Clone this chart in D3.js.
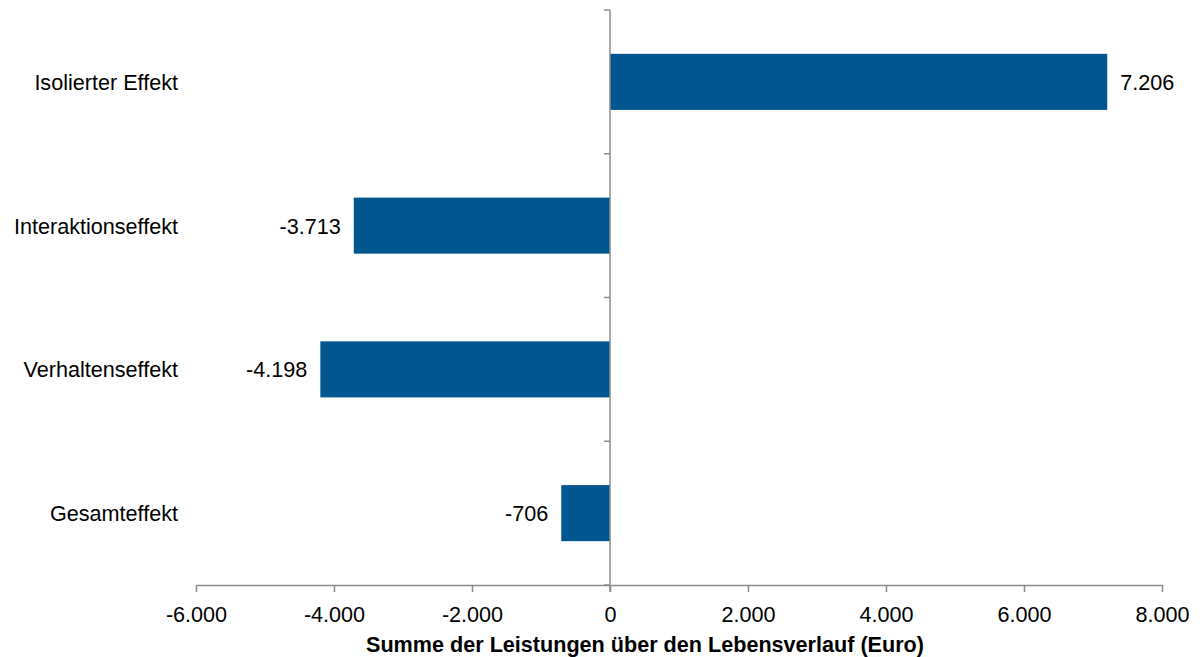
<!DOCTYPE html>
<html><head><meta charset="utf-8">
<script src="https://cdn.jsdelivr.net/npm/d3@7"></script>
<style>body{margin:0;background:#fff;} text{font-family:"Liberation Sans",Arial,sans-serif;}</style>
</head><body><svg id="c" width="1200" height="657"></svg>
<script>
const categories = ["Isolierter Effekt","Interaktionseffekt","Verhaltenseffekt","Gesamteffekt"];
const values = [7206,-3713,-4198,-706];
const xTicks = [-6000,-4000,-2000,0,2000,4000,6000,8000];
const xTitle = "Summe der Leistungen über den Lebensverlauf (Euro)";

const svg = d3.select("#c");
const pLeft=196, pRight=1162, pTop=10, pBottom=585;
const fmt = v => d3.format(",")(v).replace(/,/g,".").replace("\u2212","-");
const x = d3.scaleLinear().domain([-6000,8000]).range([pLeft,pRight]);
const y = d3.scaleBand().domain(categories).range([pTop,pBottom]).paddingInner(0.61).paddingOuter(0.305);
const axisColor="#8c8c8c";
const fs = 21.6;

// bars
svg.selectAll("rect.bar").data(values).enter().append("rect")
  .attr("x",d=>x(Math.min(0,d))).attr("width",d=>Math.abs(x(d)-x(0)))
  .attr("y",(d,i)=>y(categories[i])).attr("height",y.bandwidth())
  .attr("fill","#02568F");

// x axis
const xa = svg.append("g").attr("transform",`translate(0,${pBottom})`)
  .call(d3.axisBottom(x).tickValues(xTicks).tickSize(7).tickSizeOuter(0).tickFormat(fmt));
xa.select(".domain").attr("stroke",axisColor).attr("stroke-width",1.5);
xa.selectAll(".tick line").attr("stroke",axisColor).attr("stroke-width",1.5);
xa.selectAll(".tick text").attr("font-size",fs).attr("fill","#000").attr("y",37).attr("dy",0)
  .attr("font-family","Liberation Sans, Arial, sans-serif");

// y axis at zero
const bandStep = y.step();
const yTickPos = d3.range(categories.length+1).map(i=>pTop + i*bandStep);
svg.append("line").attr("x1",x(0)).attr("x2",x(0)).attr("y1",pTop).attr("y2",pBottom+7)
  .attr("stroke",axisColor).attr("stroke-width",1.5);
svg.selectAll("line.yt").data(yTickPos).enter().append("line")
  .attr("x1",x(0)-6).attr("x2",x(0)).attr("y1",d=>d).attr("y2",d=>d)
  .attr("stroke",axisColor).attr("stroke-width",1.5);

// category labels
svg.selectAll("text.cat").data(categories).enter().append("text")
  .attr("x",178).attr("y",d=>y(d)+y.bandwidth()/2 + 8)
  .attr("text-anchor","end").attr("font-size",fs).attr("fill","#000").text(d=>d);

// value labels
svg.selectAll("text.val").data(values).enter().append("text")
  .attr("x",d=> d>=0 ? x(d)+13 : x(d)-13)
  .attr("y",(d,i)=>y(categories[i])+y.bandwidth()/2 + 8)
  .attr("text-anchor",d=>d>=0?"start":"end").attr("font-size",fs).attr("fill","#000")
  .text(d=>fmt(d));

// axis title
svg.append("text").attr("x",645).attr("y",652).attr("text-anchor","middle")
  .attr("font-size",fs).attr("font-weight","bold").attr("fill","#000").text(xTitle);
</script></body></html>
